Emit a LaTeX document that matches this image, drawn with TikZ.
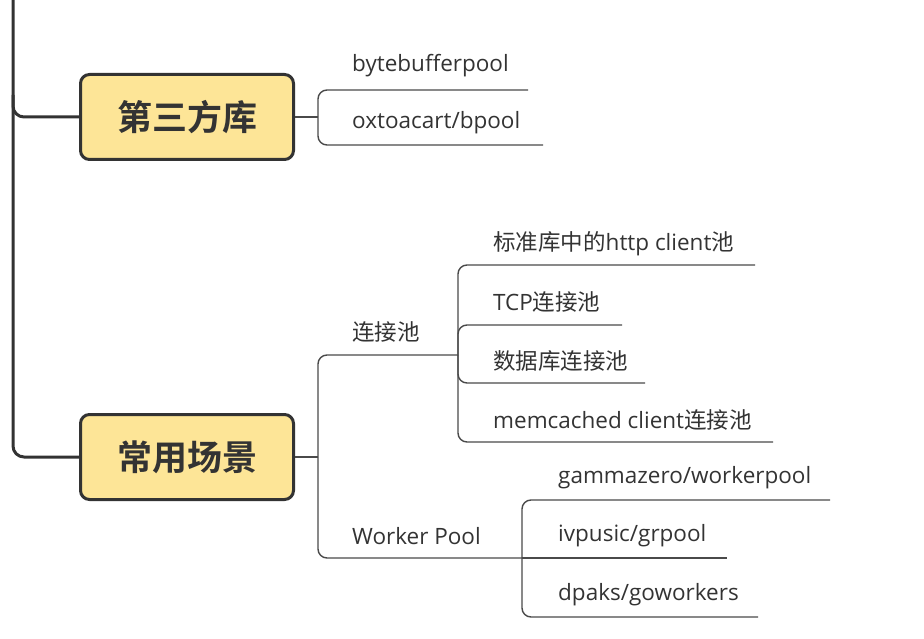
\documentclass[tikz,border=0pt]{standalone}
\usepackage{fontspec}
\setmainfont{Open Sans}
\newfontfamily\cjk{Noto Sans CJK SC}
\newfontfamily\cjkb{Noto Sans CJK SC Bold}
\definecolor{ink}{HTML}{333333}
\definecolor{boxfill}{HTML}{FDE597}
\definecolor{linec}{HTML}{4A4A4A}
\tikzset{
  topic/.style={draw=ink, line width=3pt, fill=boxfill, rounded corners=9pt,
    minimum width=213pt, minimum height=85pt, inner sep=0pt,
    font=\cjkb\fontsize{35}{38}\selectfont, text=ink},
  leaf/.style={anchor=west, inner sep=0pt, text=ink, font=\fontsize{22.5}{25}\selectfont},
  trunk/.style={draw=ink, line width=3pt, rounded corners=11pt},
  branch/.style={draw=linec, line width=1.4pt, rounded corners=9pt},
}
\begin{document}
\begin{tikzpicture}[x=1pt,y=-1pt]
\useasboundingbox (0,0) rectangle (924,639);
% topics
\node[topic] (b1) at (187,117) {第三方库};
\node[topic] (b2) at (187,457) {常用场景};
% trunk
\coordinate (top) at (13,0);
\coordinate (tj) at (13,95);
\draw[trunk] (top) |- (b2.west);
\draw[trunk] (tj) |- (b1.west);
% third-party branch
\coordinate (j1) at (318,117);
\node[leaf] (bb) at (352,66) {bytebufferpool};
\node[leaf] (ox) at (352,123) {oxtoacart/bpool};
\coordinate (bbe) at (528,90);
\coordinate (oxe) at (543,145);
\draw[branch] (b1.east) -- (j1);
\draw[branch] (j1) |- (bbe);
\draw[branch] (j1) |- (oxe);
% usage branch
\coordinate (j2) at (318,457);
\node[leaf] (cp) at (352,332) {\cjk 连接池};
\node[leaf] (wp) at (352,536) {Worker Pool};
\coordinate (cpe) at (458,355);
\coordinate (wpe) at (522,558);
\draw[branch] (b2.east) -- (j2);
\draw[branch] (j2) |- (cpe);
\draw[branch] (j2) |- (wpe);
% connection pools
\node[leaf] (h1) at (493,244) {{\cjk 标准库中的}http client{\cjk 池}};
\node[leaf] (h2) at (493,302) {TCP{\cjk 连接池}};
\node[leaf] (h3) at (493,361) {\cjk 数据库连接池};
\node[leaf] (h4) at (493,420) {memcached client{\cjk 连接池}};
\coordinate (h1e) at (755,265);
\coordinate (h2e) at (622,325);
\coordinate (h3e) at (645,383);
\coordinate (h4e) at (773,442);
\draw[branch] (cpe) |- (h1e);
\draw[branch] (cpe) |- (h2e);
\draw[branch] (cpe) |- (h3e);
\draw[branch] (cpe) |- (h4e);
% worker pools
\node[leaf] (w1) at (558,478) {gammazero/workerpool};
\node[leaf] (w2) at (558,536) {ivpusic/grpool};
\node[leaf] (w3) at (558,595) {dpaks/goworkers};
\coordinate (w1e) at (830,500);
\coordinate (w2e) at (727,558);
\coordinate (w3e) at (758,617);
\draw[branch] (wpe) |- (w1e);
\draw[branch] (wpe) -- (w2e);
\draw[branch] (wpe) |- (w3e);
\end{tikzpicture}
\end{document}
